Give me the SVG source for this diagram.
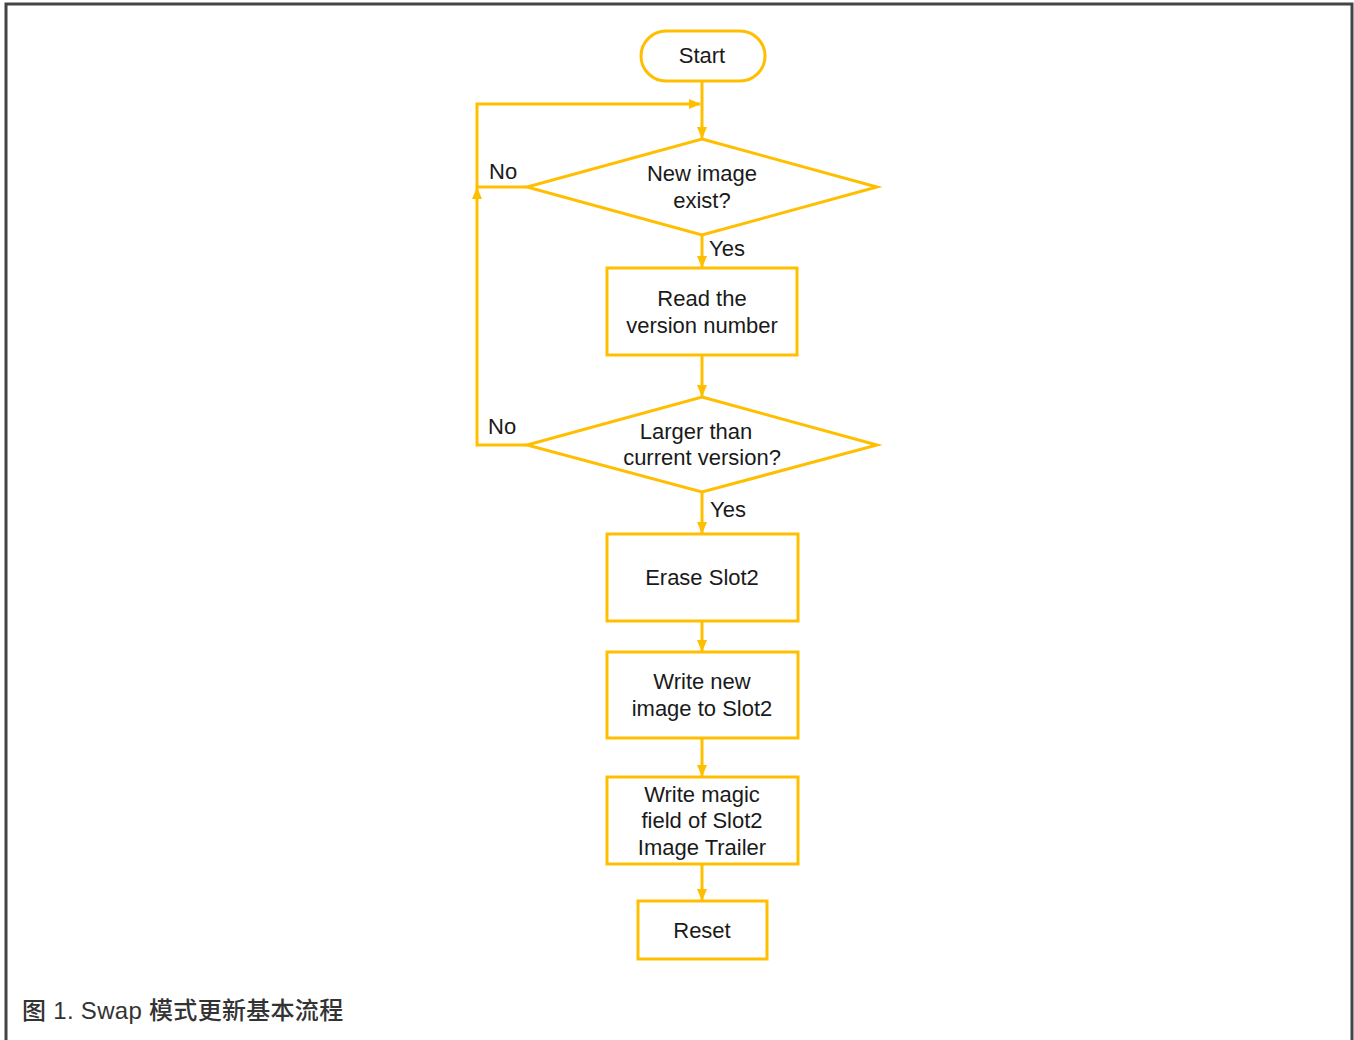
<svg xmlns="http://www.w3.org/2000/svg" width="1354" height="1040" viewBox="0 0 1354 1040">
<defs>
<marker id="ah" viewBox="0 0 12 10" refX="11" refY="5" markerWidth="12" markerHeight="10" markerUnits="userSpaceOnUse" orient="auto">
<path d="M0,0 L12,5 L0,10 z" fill="#FFBF00"/>
</marker>
<style>
.s{fill:#fff;stroke:#FFBF00;stroke-width:3}
.c{fill:none;stroke:#FFBF00;stroke-width:3}
.t{font-family:"Liberation Sans",Arial,sans-serif;font-size:22px;fill:#1a1a1a;text-anchor:middle}
.l{font-family:"Liberation Sans",Arial,sans-serif;font-size:22px;fill:#1a1a1a}
</style>
</defs>
<rect x="0" y="0" width="1354" height="1040" fill="#fff"/>
<path d="M6,1040 V4 H1352 V1040" fill="none" stroke="#444" stroke-width="3"/>
<g id="connectors">
<line class="c" x1="702" y1="81" x2="702" y2="138" marker-end="url(#ah)"/>
<line class="c" x1="702" y1="235" x2="702" y2="267" marker-end="url(#ah)"/>
<line class="c" x1="702" y1="355" x2="702" y2="396" marker-end="url(#ah)"/>
<line class="c" x1="702" y1="492" x2="702" y2="533" marker-end="url(#ah)"/>
<line class="c" x1="702" y1="621" x2="702" y2="651" marker-end="url(#ah)"/>
<line class="c" x1="702" y1="738" x2="702" y2="776" marker-end="url(#ah)"/>
<line class="c" x1="702" y1="864" x2="702" y2="900" marker-end="url(#ah)"/>
<polyline class="c" points="527,187 477,187"/>
<polyline class="c" points="527,445 477,445 477,188" marker-end="url(#ah)"/>
<polyline class="c" points="477,188 477,104 700,104" marker-end="url(#ah)"/>
<text class="l" x="489" y="179">No</text>
<text class="l" x="488" y="434">No</text>
<text class="l" x="709" y="256">Yes</text>
<text class="l" x="710" y="517">Yes</text>
</g>
<g id="start"><rect class="s" x="641" y="31" width="124" height="50" rx="25"/><text class="t" x="702" y="63">Start</text></g>
<g id="d1"><polygon class="s" points="702,139 877,187 702,235 527,187"/><text class="t" x="702" y="181">New image</text><text class="t" x="702" y="208">exist?</text></g>
<g id="r1"><rect class="s" x="607" y="268" width="190" height="87"/><text class="t" x="702" y="306">Read the</text><text class="t" x="702" y="333">version number</text></g>
<g id="d2"><polygon class="s" points="702,397 877,445 702,492 527,445"/><text class="t" x="696" y="439">Larger than</text><text class="t" x="702" y="465">current version?</text></g>
<g id="r2"><rect class="s" x="607" y="534" width="191" height="87"/><text class="t" x="702" y="585">Erase Slot2</text></g>
<g id="r3"><rect class="s" x="607" y="652" width="191" height="86"/><text class="t" x="702" y="689">Write new</text><text class="t" x="702" y="716">image to Slot2</text></g>
<g id="r4"><rect class="s" x="607" y="777" width="191" height="87"/><text class="t" x="702" y="802">Write magic</text><text class="t" x="702" y="828">field of Slot2</text><text class="t" x="702" y="855">Image Trailer</text></g>
<g id="reset"><rect class="s" x="638" y="901" width="129" height="58"/><text class="t" x="702" y="938">Reset</text></g>
<text x="22" y="1019" font-family="'Liberation Sans','Noto Sans CJK SC',sans-serif" font-size="24" font-weight="500" letter-spacing="0.3" fill="#333">图 1. Swap 模式更新基本流程</text>
</svg>
